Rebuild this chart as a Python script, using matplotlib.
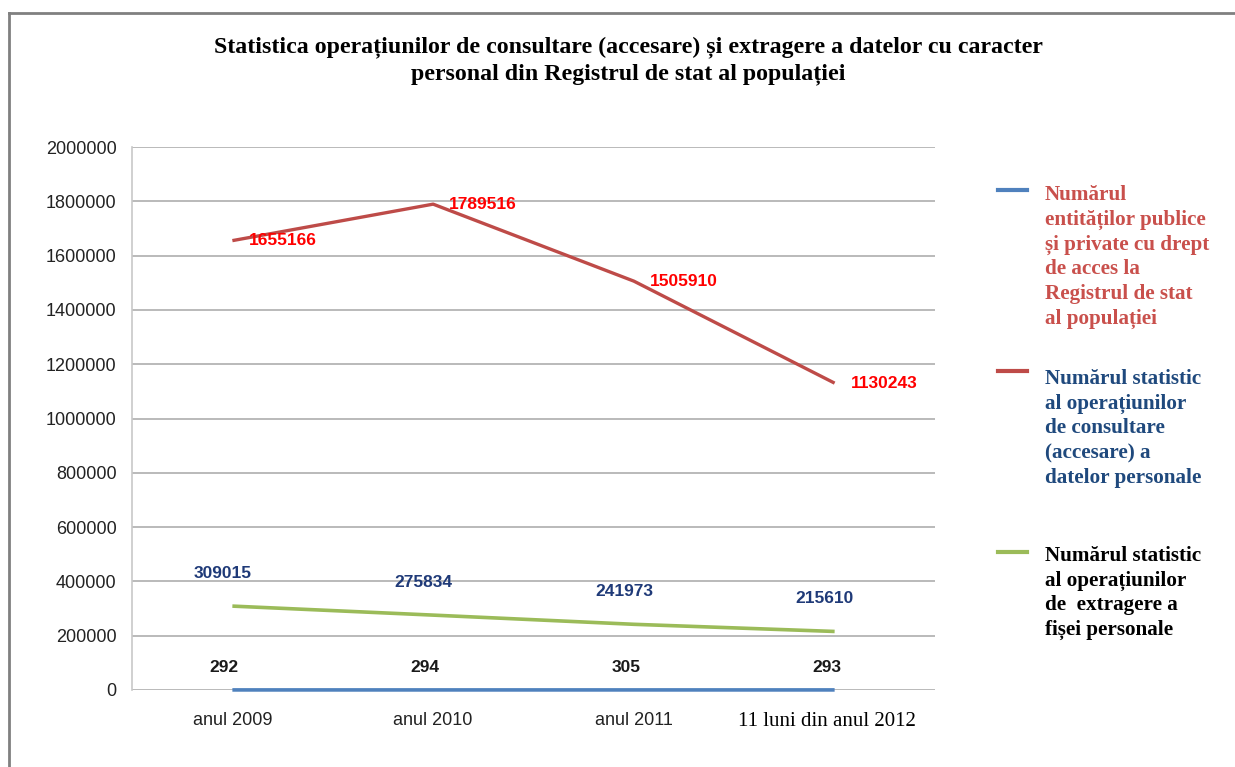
import matplotlib
matplotlib.use("Agg")
import matplotlib.pyplot as plt
import matplotlib.transforms as mtransforms
from matplotlib.lines import Line2D

# date
categorii = ["anul 2009", "anul 2010", "anul 2011", "11 luni din anul 2012"]
entitati = [292, 294, 305, 293]
consultare = [1655166, 1789516, 1505910, 1130243]
extragere = [309015, 275834, 241973, 215610]

titlu = ("Statistica operațiunilor de consultare (accesare) și extragere a datelor cu caracter\n"
         "personal din Registrul de stat al populației")
leg_entitati = ("Numărul\nentităților publice\nși private cu drept\nde acces la\n"
                "Registrul de stat\nal populației")
leg_consultare = ("Numărul statistic\nal operațiunilor\nde consultare\n(accesare) a\n"
                  "datelor personale")
leg_extragere = ("Numărul statistic\nal operațiunilor\nde  extragere a\nfișei personale")

W, H = 1235, 767
fig = plt.figure(figsize=(W / 100, H / 100), dpi=100)
fig.patch.set_facecolor("white")

def fx(px):
    return px / W

def fy(py):
    return 1 - py / H

ax = fig.add_axes([fx(132), fy(690), fx(935) - fx(132), fy(147) - fy(690)])

x = list(range(len(categorii)))
c_blue, c_red, c_green = "#4F81BD", "#BE4B48", "#9BBB59"

ax.plot(x, entitati, color=c_blue, lw=2.6, solid_capstyle="butt", zorder=3, clip_on=False)
ax.plot(x, consultare, color=c_red, lw=2.4, solid_capstyle="butt", zorder=3)
ax.plot(x, extragere, color=c_green, lw=2.6, solid_capstyle="butt", zorder=3)

sans = "Liberation Sans"
serif = "Liberation Serif"

for i, v in enumerate(consultare):
    ax.text(i + 0.08, v, str(v), color="#FF0000", fontsize=12.5, fontweight="bold",
            family=sans, ha="left", va="center", zorder=4)
for i, v in enumerate(extragere):
    ax.annotate(str(v), (i, v), xytext=(-10, 33), textcoords="offset pixels",
                color="#1F3A78", fontsize=12.5, fontweight="bold", family=sans,
                ha="center", va="center", zorder=4)
for i, v in enumerate(entitati):
    ax.annotate(str(v), (i, v), xytext=(-8, 22), textcoords="offset pixels",
                color="#1a1a1a", fontsize=12.5, fontweight="bold", family=sans,
                ha="center", va="center", zorder=4)

ax.set_xlim(-0.5, 3.5)
ax.set_ylim(0, 2000000)
ax.set_yticks(range(0, 2000001, 200000))
ax.set_yticklabels([str(t) for t in range(0, 2000001, 200000)])
ax.set_xticks(x)
ax.set_xticklabels(categorii)
ax.tick_params(axis="both", length=0, labelsize=13, colors="#222222")
ax.tick_params(axis="y", pad=11)
ax.tick_params(axis="x", pad=16)
for lab in ax.get_yticklabels() + ax.get_xticklabels():
    lab.set_family(sans)
last = ax.get_xticklabels()[-1]
last.set_family(serif)
last.set_fontsize(15)
last.set_color("black")
last.set_transform(last.get_transform() +
                   mtransforms.ScaledTranslation(-8 / 100, 0, fig.dpi_scale_trans))

ax.grid(axis="y", color="#B4B4B4", lw=1.3)
ax.set_axisbelow(True)
for s in ["top", "right", "bottom"]:
    ax.spines[s].set_visible(False)
ax.spines["left"].set_color("#C8C8C8")
ax.spines["left"].set_linewidth(1.2)

# titlu
fig.text(fx(628), fy(60.5), titlu, ha="center", va="center", fontsize=17.2,
         fontweight="bold", family=serif, linespacing=1.32)

# legenda
leg = [(c_blue, leg_entitati, "#C9504C", 190, 185),
       (c_red, leg_consultare, "#1F497D", 371, 369),
       (c_green, leg_extragere, "black", 552, 546)]
for col, txt, tcol, ly, ty in leg:
    fig.add_artist(Line2D([fx(998), fx(1027)], [fy(ly), fy(ly)], color=col, lw=3,
                          transform=fig.transFigure))
    fig.text(fx(1045), fy(ty), txt, ha="left", va="top", fontsize=15.2,
             fontweight="bold", family=serif, color=tcol, linespacing=1.31)

# chenar
fig.add_artist(Line2D([fx(9), fx(1235)], [fy(13), fy(13)], color="#808080", lw=2,
                      transform=fig.transFigure))
fig.add_artist(Line2D([fx(9), fx(9)], [fy(13), fy(767)], color="#808080", lw=2,
                      transform=fig.transFigure))

fig.savefig("out.png", dpi=100)
